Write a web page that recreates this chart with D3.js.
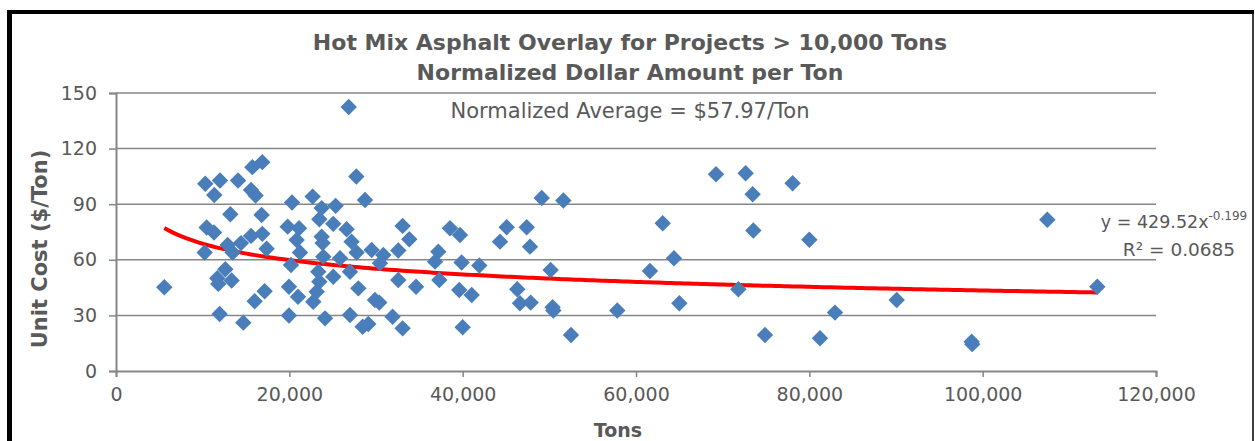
<!DOCTYPE html>
<html>
<head>
<meta charset="utf-8">
<script src="https://cdn.jsdelivr.net/npm/d3@7"></script>
<style>
  body { margin: 0; background: #fff; }
  text { font-family: "DejaVu Sans", sans-serif; fill: #595959; }
</style>
</head>
<body>
<svg id="chart" width="1255" height="441"></svg>
<script>
// project size (tons) and normalized unit cost ($/ton)
const tons = [
  5575, 10300, 12000, 14080, 11340, 15730, 16880, 15580, 16110, 13190,
  16800, 20310, 10460, 11310, 19810, 15580, 16880, 12880, 14420, 17380,
  10230, 13460, 20840, 12610, 11690, 11800, 13340, 20190, 19960, 17150,
  16000, 21000, 11960, 14690, 19960,
  26850, 27730, 22690, 23730, 25340, 28730, 23460, 21120, 25070, 26610,
  23730, 23840, 27180, 27760, 21230, 25850, 23920, 29500, 30850, 32570,
  33070, 33840, 30460, 27000, 25070, 23340, 23460, 23150, 22760, 27960,
  29880, 30380, 32570, 34620, 24120, 27000, 28460, 29110, 31910, 33070,
  37190, 36810, 37310, 38540, 39690, 39880, 39610, 41040, 40000, 41920,
  44310, 45080, 47390, 47770, 49120, 51620, 50150, 46300, 46610, 47850,
  50380, 50460, 52500, 57840, 61610, 63080, 64380, 65000,
  69230, 72650, 73460, 78070, 73540, 80000, 71810, 82960, 74880, 81230,
  90080, 107460, 113230, 98730, 98800
];
const unitCost = [
  45.2, 101, 102.8, 102.8, 95, 110, 112.7, 97.7, 94.7, 84.6,
  84.2, 90.9, 77.4, 74.7, 77.9, 72.9, 74, 68, 69, 66,
  63.9, 63.9, 70.7, 54.9, 50, 47, 48.8, 57.2, 45.5, 43,
  37.6, 40.1, 30.8, 26.1, 29.9,
  142.4, 104.9, 94.1, 87.9, 89.1, 92.3, 81.9, 77, 79.4, 76.5,
  72.5, 69, 69.8, 63.9, 63.9, 60.8, 61.7, 65.3, 62.6, 65,
  78.3, 71.1, 58.2, 53.6, 50.9, 53.6, 48.2, 42.8, 37.4, 44.6,
  38.3, 36.9, 49.1, 45.5, 28.4, 30.2, 23.9, 25.4, 29.3, 23,
  64.4, 59, 49.1, 77, 73.4, 58.5, 43.7, 41, 23.6, 56.9,
  69.8, 77.6, 77.6, 67.1, 93.3, 92, 54.5, 44.1, 36.6, 36.9,
  34.4, 32.6, 19.4, 32.6, 54, 79.7, 60.8, 36.6,
  106.2, 106.7, 95.4, 101.3, 75.8, 70.8, 44.1, 31.5, 19.4, 17.7,
  38.3, 81.6, 45.5, 15.8, 14.5
];

const xTicks = [0, 20000, 40000, 60000, 80000, 100000, 120000];
const yTicks = [0, 30, 60, 90, 120, 150];

// power trendline shown on the chart: y = 429.52 x^-0.199
const trendCoef = 429.52;
const trendExp = -0.199;

const titleLines = ["Hot Mix Asphalt Overlay for Projects > 10,000 Tons",
                    "Normalized Dollar Amount per Ton"];

const svg = d3.select('#chart');
const gray = "#868686";

const x = d3.scaleLinear().domain([0, 120000]).range([116, 1156]);
const y = d3.scaleLinear().domain([0, 150]).range([371, 93]);

// frame
svg.append("line").attr("x1", 9.5).attr("x2", 9.5).attr("y1", 10).attr("y2", 441)
  .attr("stroke", "#000").attr("stroke-width", 5);
svg.append("line").attr("x1", 7).attr("x2", 1254).attr("y1", 12).attr("y2", 12)
  .attr("stroke", "#000").attr("stroke-width", 4);
svg.append("line").attr("x1", 1253).attr("x2", 1253).attr("y1", 10).attr("y2", 441)
  .attr("stroke", "#000").attr("stroke-width", 1.5);

// gridlines
svg.append("g")
  .selectAll("line")
  .data(yTicks.filter(d => d > 0))
  .join("line")
  .attr("x1", x(0)).attr("x2", x(120000))
  .attr("y1", d => y(d)).attr("y2", d => y(d))
  .attr("stroke", gray).attr("stroke-width", 1.5);

// axes
const yAxis = svg.append("g")
  .attr("transform", `translate(${x(0)},0)`)
  .call(d3.axisLeft(y).tickValues(yTicks).tickSize(7).tickPadding(12));
const xAxis = svg.append("g")
  .attr("transform", `translate(0,${y(0)})`)
  .call(d3.axisBottom(x).tickValues(xTicks).tickSize(6).tickPadding(8)
    .tickFormat(d3.format(",")));

[yAxis, xAxis].forEach(a => {
  a.select(".domain").attr("stroke", gray).attr("stroke-width", 2);
  a.selectAll(".tick line").attr("stroke", gray).attr("stroke-width", 1.5);
  a.selectAll(".tick text")
    .style("font-family", "DejaVu Sans, sans-serif")
    .style("font-size", "19px")
    .attr("fill", "#595959");
});
xAxis.selectAll(".tick text").attr("dy", "0.85em");

// trendline
const trendX = d3.range(d3.min(tons), d3.max(tons), 500).concat([d3.max(tons)]);
svg.append("path")
  .datum(trendX)
  .attr("fill", "none")
  .attr("stroke", "#ff0000")
  .attr("stroke-width", 4)
  .attr("d", d3.line()
    .x(d => x(d))
    .y(d => y(trendCoef * Math.pow(d, trendExp))));

// points
const pts = tons.map((t, i) => ({t: t, c: unitCost[i]}));
const diamond = d3.symbol().type(d3.symbolSquare).size(135);
svg.append("g")
  .selectAll("path")
  .data(pts)
  .join("path")
  .attr("d", diamond)
  .attr("transform", d => `translate(${x(d.t)},${y(d.c)}) rotate(45)`)
  .attr("fill", "#4a7ebb");

// titles
svg.append("g").selectAll("text")
  .data(titleLines)
  .join("text")
  .attr("x", 630)
  .attr("y", (d, i) => 50 + i * 30)
  .attr("text-anchor", "middle")
  .style("font-size", "22px")
  .style("font-weight", "bold")
  .text(d => d);

svg.append("text")
  .attr("x", 630).attr("y", 118)
  .attr("text-anchor", "middle")
  .style("font-size", "21px")
  .text("Normalized Average = $57.97/Ton");

// trendline label
const eq = svg.append("text")
  .attr("x", 1174).attr("y", 228)
  .attr("text-anchor", "middle")
  .style("font-size", "17.5px");
eq.append("tspan").text("y = 429.52x");
eq.append("tspan").attr("dy", -8).style("font-size", "12px").text("-0.199");
svg.append("text")
  .attr("x", 1179).attr("y", 256)
  .attr("text-anchor", "middle")
  .style("font-size", "18.5px")
  .text("R² = 0.0685");

// axis titles
svg.append("text")
  .attr("transform", "translate(47,249) rotate(-90)")
  .attr("text-anchor", "middle")
  .style("font-size", "21px")
  .style("font-weight", "bold")
  .text("Unit Cost ($/Ton)");

svg.append("text")
  .attr("x", 618).attr("y", 437)
  .attr("text-anchor", "middle")
  .style("font-size", "19px")
  .style("font-weight", "bold")
  .text("Tons");
</script>
</body>
</html>
